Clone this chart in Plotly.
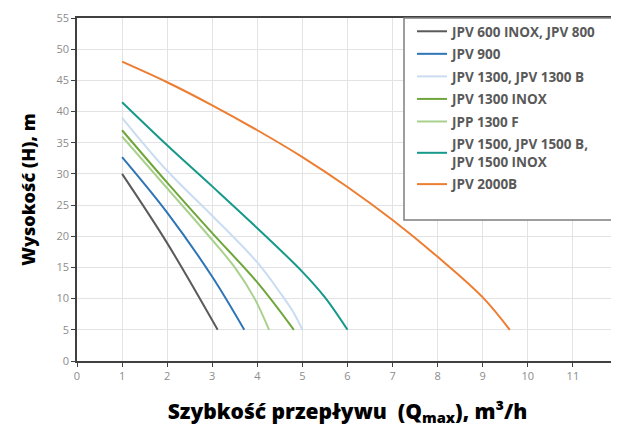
import plotly.graph_objects as go

# ---- data ----
names = [
    "JPV 600 INOX, JPV 800",
    "JPV 900",
    "JPV 1300, JPV 1300 B",
    "JPV 1300 INOX",
    "JPP 1300 F",
    "JPV 1500, JPV 1500 B,<br>JPV 1500 INOX",
    "JPV 2000B",
]
x_600 = [1, 2, 3.12]
y_600 = [30, 18.9, 5]
x_900 = [1, 2, 3, 3.71]
y_900 = [32.7, 23.8, 13.5, 5]
x_1300 = [1, 2, 3, 4, 4.5, 4.8, 5.0]
y_1300 = [39, 30.5, 23.3, 15.8, 11.0, 7.8, 5]
x_1300i = [1, 2, 3, 4, 4.81]
y_1300i = [37, 28.6, 20.5, 12.6, 5]
x_1300f = [1, 2, 3, 3.5, 3.94, 4.26]
y_1300f = [36, 27.7, 19.4, 15, 10, 5]
x_1500 = [1, 2, 3, 4, 5, 5.5, 6.0]
y_1500 = [41.5, 34.6, 28.0, 21.3, 14.3, 10.2, 5]
x_2000 = [1, 2, 3, 4, 5, 6, 7, 8, 9, 9.6]
y_2000 = [48, 44.7, 41.0, 37.0, 32.7, 27.9, 22.6, 16.7, 10.2, 5]

xs = [x_600, x_900, x_1300, x_1300i, x_1300f, x_1500, x_2000]
ys = [y_600, y_900, y_1300, y_1300i, y_1300f, y_1500, y_2000]
colors = ["#5a5a5a", "#2e75b6", "#c9dcf2", "#6fa63a", "#a9d18e", "#16998a", "#ed7d31"]

x_ticks = list(range(0, 13))
y_ticks = list(range(0, 56, 5))

fig = go.Figure()
for i, (n, xv, yv, c) in enumerate(zip(names, xs, ys, colors)):
    fig.add_trace(go.Scatter(
        x=xv, y=yv, name=n, mode="lines",
        line=dict(color=c, width=2, shape="spline", smoothing=1.0),
        legendgroup=f"g{i}",
    ))

# page body has an 8px margin, so figure coords = page coords - 8
OFF = 8
W, H = 619, 430
L, T = 77 - OFF, 18 - OFF
R = W - (618 - OFF)
B = H - (361 - OFF)
pw = W - L - R
ph = H - T - B

def px2x(p):
    return (p - OFF - L) / pw

def py2y(p):
    return (H - B - (p - OFF)) / ph

fig.add_shape(type="rect", xref="paper", yref="paper",
              x0=px2x(404), x1=px2x(618.5), y0=py2y(220), y1=1,
              line=dict(color="#7f7f7f", width=1.5), fillcolor="white", layer="above")

tickfont = dict(family="Open Sans", size=11, color="#8c8c8c")
fig.update_layout(
    width=W, height=H,
    margin=dict(l=L, r=R, t=T, b=B, autoexpand=False),
    paper_bgcolor="white", plot_bgcolor="white",
    showlegend=True,
    legend=dict(
        x=px2x(412), y=py2y(16), xanchor="left", yanchor="top",
        bgcolor="rgba(0,0,0,0)", borderwidth=0,
        font=dict(family="Open Sans", size=13.5, color="#595959", weight=700),
        tracegroupgap=2, itemwidth=30,
    ),
    xaxis=dict(
        range=[0, 12], tickvals=x_ticks, ticktext=[str(v) for v in x_ticks],
        showgrid=True, gridcolor="#e3e3e3", gridwidth=1,
        showline=True, linecolor="#404040", linewidth=1.5, mirror=True,
        ticks="outside", ticklen=4, tickcolor="#404040",
        tickfont=tickfont, zeroline=False, automargin=False,
        ticklabeloverflow="allow",
        title=dict(text="Szybkość przepływu  (Q<sub>max</sub>), m³/h",
                   font=dict(family="Open Sans", size=21, color="black", weight=800),
                   standoff=22),
    ),
    yaxis=dict(
        range=[0, 55], tickvals=y_ticks, ticktext=[str(v) for v in y_ticks],
        showgrid=True, gridcolor="#e3e3e3", gridwidth=1,
        showline=True, linecolor="#404040", linewidth=1.5, mirror=True,
        ticks="outside", ticklen=4, tickcolor="#404040",
        tickfont=tickfont, zeroline=False, automargin=False,
        title=dict(text="Wysokość (H), m",
                   font=dict(family="Open Sans", size=18, color="black", weight=800),
                   standoff=16),
    ),
)

fig.write_html("out.html")
